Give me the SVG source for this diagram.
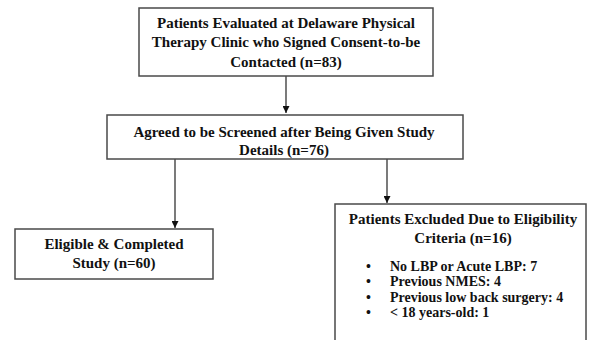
<svg xmlns="http://www.w3.org/2000/svg" width="590" height="340" viewBox="0 0 590 340">
<style>
.box{fill:#fff;stroke:#4a4a4a;stroke-width:1.5}
.t{font-family:"Liberation Serif","Times New Roman",serif;font-weight:bold;font-size:15px;fill:#111}
.b{font-size:14px}
.c{text-anchor:middle}
.conn{stroke:#333;stroke-width:1.3;fill:none}
</style>
<defs>
<marker id="ah" viewBox="0 0 10 10" refX="10" refY="5" markerWidth="7" markerHeight="7" orient="auto" markerUnits="userSpaceOnUse">
<path d="M0,0 L10,5 L0,10 z" fill="#111"/>
</marker>
</defs>
<rect width="590" height="340" fill="#fff"/>
<g id="connectors">
<line class="conn" x1="286" y1="76" x2="286" y2="113" marker-end="url(#ah)"/>
<line class="conn" x1="175" y1="159" x2="175" y2="228" marker-end="url(#ah)"/>
<line class="conn" x1="387" y1="159" x2="387" y2="203" marker-end="url(#ah)"/>
</g>
<g id="n1">
<rect class="box" x="139" y="8" width="294" height="68"/>
<text class="t c" x="286" y="28">Patients Evaluated at Delaware Physical</text>
<text class="t c" x="286" y="47">Therapy Clinic who Signed Consent-to-be</text>
<text class="t c" x="286" y="67">Contacted (n=83)</text>
</g>
<g id="n2">
<rect class="box" x="107" y="115" width="356" height="44"/>
<text class="t c" x="284" y="137">Agreed to be Screened after Being Given Study</text>
<text class="t c" x="284" y="155">Details (n=76)</text>
</g>
<g id="n3">
<rect class="box" x="15" y="229" width="198" height="50"/>
<text class="t c" x="114" y="249">Eligible &amp; Completed</text>
<text class="t c" x="114" y="268">Study (n=60)</text>
</g>
<g id="n4">
<rect class="box" x="335" y="204" width="251" height="145"/>
<text class="t c" x="463" y="224">Patients Excluded Due to Eligibility</text>
<text class="t c" x="463" y="243">Criteria (n=16)</text>
<text class="t b" y="270.5"><tspan x="366">•</tspan><tspan x="390">No LBP or Acute LBP: 7</tspan></text>
<text class="t b" y="286"><tspan x="366">•</tspan><tspan x="390">Previous NMES: 4</tspan></text>
<text class="t b" y="301.5"><tspan x="366">•</tspan><tspan x="390">Previous low back surgery: 4</tspan></text>
<text class="t b" y="317"><tspan x="366">•</tspan><tspan x="390">&lt; 18 years-old: 1</tspan></text>
</g>
</svg>
